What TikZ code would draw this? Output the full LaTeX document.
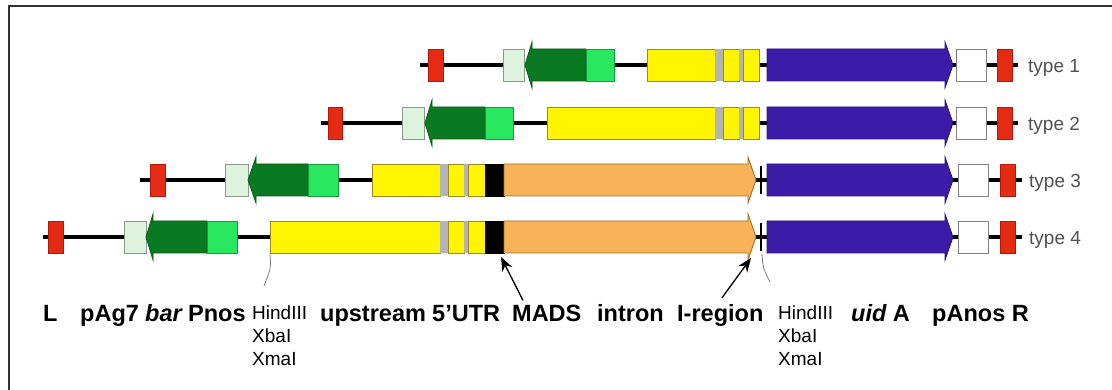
\documentclass[tikz,border=0pt]{standalone}
\usepackage{fontspec}
\setmainfont{Liberation Sans}
\usetikzlibrary{arrows.meta}
\definecolor{redbox}{HTML}{E52B14}
\definecolor{redline}{HTML}{B01808}
\definecolor{palegreen}{HTML}{DDF3DD}
\definecolor{paleline}{HTML}{8A9A8A}
\definecolor{darkgreen}{HTML}{0A7A22}
\definecolor{darkgline}{HTML}{0A5A15}
\definecolor{brightgreen}{HTML}{28E860}
\definecolor{brightgline}{HTML}{1A9A40}
\definecolor{yelfill}{HTML}{FFF500}
\definecolor{yelline}{HTML}{9A8A20}
\definecolor{gapgrey}{HTML}{B4B4B4}
\definecolor{orangefill}{HTML}{F8B257}
\definecolor{orangeline}{HTML}{9A7030}
\definecolor{purplefill}{HTML}{3B1CA8}
\definecolor{purpleline}{HTML}{2A1478}
\definecolor{typegrey}{HTML}{505050}
\newcommand\gbox[4]{\filldraw[#4] ({#1},{#3-16}) rectangle ({#2},{#3+16});}
\newcommand\garrL[5]{\filldraw[#5] ({#1},{#4}) -- ({#2},{#4-23}) -- ({#2},{#4-16}) -- ({#3},{#4-16}) -- ({#3},{#4+16}) -- ({#2},{#4+16}) -- ({#2},{#4+23}) -- cycle;}
\newcommand\garrR[5]{\filldraw[#5] ({#1},{#4-16}) -- ({#2},{#4-16}) -- ({#2},{#4-23}) -- ({#3},{#4}) -- ({#2},{#4+23}) -- ({#2},{#4+16}) -- ({#1},{#4+16}) -- cycle;}
\tikzset{
  dnaline/.style={line width=4.5pt, black},
  redstyle/.style={fill=redbox, draw=redline, line width=0.8pt},
  palestyle/.style={fill=palegreen, draw=paleline, line width=0.8pt},
  darkstyle/.style={fill=darkgreen, draw=darkgline, line width=0.8pt},
  brightstyle/.style={fill=brightgreen, draw=brightgline, line width=0.8pt},
  yelstyle/.style={fill=yelfill, draw=yelline, line width=0.9pt},
  gapstyle/.style={fill=gapgrey, draw=none},
  orangestyle/.style={fill=orangefill, draw=orangeline, line width=0.9pt},
  purplestyle/.style={fill=purplefill, draw=purpleline, line width=0.8pt},
  whitestyle/.style={fill=white, draw=gray, line width=0.9pt},
  blackstyle/.style={fill=black, draw=black, line width=0.5pt},
  typelabel/.style={anchor=base west, inner sep=0pt, text=typegrey, font=\fontsize{19}{22}\selectfont},
  boldlabel/.style={anchor=base west, inner sep=0pt, font=\fontsize{23.5}{27}\selectfont\bfseries},
  sitelabel/.style={anchor=north west, inner sep=0pt, align=left, font=\fontsize{19}{23}\selectfont},
  lblarrow/.style={-{Stealth[length=14pt,width=11pt]}, line width=1.3pt, black},
  siteline/.style={gray, line width=0.8pt},
  tickline/.style={black, line width=1.6pt}
}
\begin{document}
\begin{tikzpicture}[x=1pt,y=-1pt]
\useasboundingbox (0,0) rectangle (1112,390);
\fill[white] (0,0) rectangle (1112,390);
\draw[line width=2pt, black!80] (9,392) -- (9,6) -- (1114,6);

% ---------- type 1 ----------
\draw[dnaline] (420,65) -- (1018,65);
\gbox{428}{443}{65}{redstyle}
\gbox{503}{524}{65}{palestyle}
\garrL{525}{532}{586}{65}{darkstyle}
\gbox{586}{614}{65}{brightstyle}
\gbox{647}{715}{65}{yelstyle}
\gbox{715}{723}{65}{gapstyle}
\gbox{723}{739}{65}{yelstyle}
\gbox{739}{743}{65}{gapstyle}
\gbox{743}{759}{65}{yelstyle}
\garrR{767}{945}{953}{65}{purplestyle}
\gbox{956}{986}{65}{whitestyle}
\gbox{997}{1012}{65}{redstyle}
\node[typelabel] (t1) at (1028,73) {type 1};

% ---------- type 2 ----------
\draw[dnaline] (321,123) -- (1018,123);
\gbox{328}{342}{123}{redstyle}
\gbox{402}{424}{123}{palestyle}
\garrL{425}{432}{485}{123}{darkstyle}
\gbox{485}{513}{123}{brightstyle}
\gbox{547}{715}{123}{yelstyle}
\gbox{715}{723}{123}{gapstyle}
\gbox{723}{739}{123}{yelstyle}
\gbox{739}{743}{123}{gapstyle}
\gbox{743}{759}{123}{yelstyle}
\garrR{767}{945}{953}{123}{purplestyle}
\gbox{956}{986}{123}{whitestyle}
\gbox{997}{1012}{123}{redstyle}
\node[typelabel] (t2) at (1028,131) {type 2};

% ---------- type 3 ----------
\draw[dnaline] (140,180) -- (1022,180);
\gbox{150}{165}{180}{redstyle}
\gbox{225}{248}{180}{palestyle}
\garrL{248}{256}{308}{180}{darkstyle}
\gbox{308}{338}{180}{brightstyle}
\gbox{372}{440}{180}{yelstyle}
\gbox{440}{448}{180}{gapstyle}
\gbox{448}{464}{180}{yelstyle}
\gbox{464}{468}{180}{gapstyle}
\gbox{468}{485}{180}{yelstyle}
\gbox{485}{504}{180}{blackstyle}
\garrR{504}{748}{756}{180}{orangestyle}
\draw[tickline] (761,166) -- (761,194);
\garrR{767}{945}{953}{180}{purplestyle}
\gbox{958}{988}{180}{whitestyle}
\gbox{1000}{1015}{180}{redstyle}
\node[typelabel] (t3) at (1029,188) {type 3};

% ---------- type 4 ----------
\draw[dnaline] (43,237) -- (1022,237);
\gbox{48}{63}{237}{redstyle}
\gbox{124}{146}{237}{palestyle}
\garrL{146}{153}{207}{237}{darkstyle}
\gbox{207}{237}{237}{brightstyle}
\gbox{270}{440}{237}{yelstyle}
\gbox{440}{448}{237}{gapstyle}
\gbox{448}{464}{237}{yelstyle}
\gbox{464}{468}{237}{gapstyle}
\gbox{468}{485}{237}{yelstyle}
\gbox{485}{504}{237}{blackstyle}
\garrR{504}{748}{756}{237}{orangestyle}
\draw[tickline] (761,223) -- (761,251);
\garrR{767}{945}{953}{237}{purplestyle}
\gbox{958}{988}{237}{whitestyle}
\gbox{1000}{1015}{237}{redstyle}
\node[typelabel] (t4) at (1029,245) {type 4};

% ---------- labels ----------
\node[boldlabel] (L) at (43,322) {L};
\node[boldlabel] (pAg) at (80,322) {pAg7};
\node[boldlabel] (bar) at (145,322) {\itshape bar};
\node[boldlabel] (Pnos) at (188,322) {Pnos};
\node[sitelabel] (siteA) at (252,306) {HindIII\\XbaI\\XmaI};
\node[boldlabel] (up) at (320,322) {upstream};
\node[boldlabel] (utr) at (432,322) {5’UTR};
\node[boldlabel] (MADS) at (512,322) {MADS};
\node[boldlabel] (intron) at (597,322) {intron};
\node[boldlabel] (Ireg) at (677,322) {I-region};
\node[sitelabel] (siteB) at (778,306) {HindIII\\XbaI\\XmaI};
\node[boldlabel] (uid) at (851,322) {\itshape uid\upshape\ A};
\node[boldlabel] (pAnos) at (932,322) {pAnos R};

\coordinate (madsTip) at (501,257);
\coordinate (iregTip) at (751,258);
\draw[lblarrow] ([xshift=11pt,yshift=5pt]MADS.north west) -- (madsTip);
\draw[lblarrow] ([xshift=45pt,yshift=7pt]Ireg.north west) -- (iregTip);

\coordinate (cutA) at (270,254);
\coordinate (cutB) at (762,254);
\draw[siteline] (cutA) .. controls (271,268) .. ([xshift=12pt,yshift=20pt]siteA.north west);
\draw[siteline] (cutB) .. controls (763,268) .. ([xshift=-8pt,yshift=24pt]siteB.north west);
\end{tikzpicture}
\end{document}
